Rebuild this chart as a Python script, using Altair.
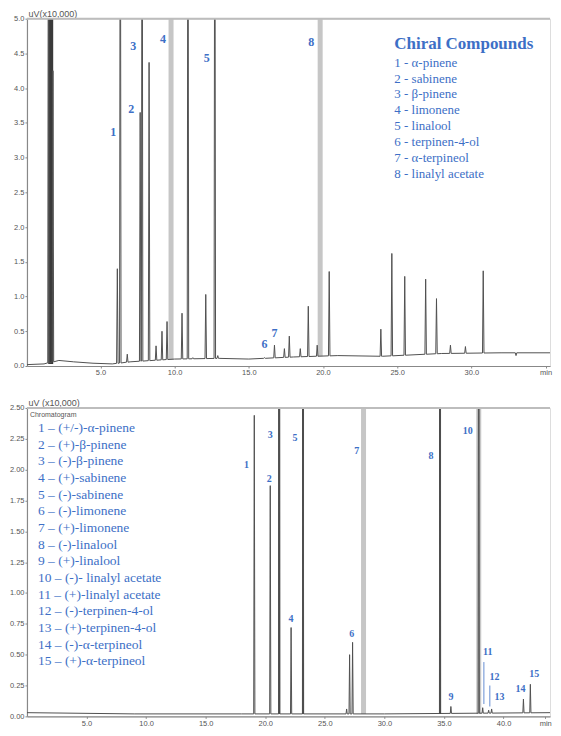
import altair as alt
import numpy as np
import pandas as pd

BLUE = "#3d6fc6"
TRACE = "#505050"
SERIF = "Liberation Serif"
SANS = "Liberation Sans"

# ---------------- Top chromatogram (achiral column) ----------------
top_base_t = [0.05, 1.2, 2.2, 3.2, 4.5, 5.8, 7.0, 10.0, 13.0, 15.0, 18.0, 21.0, 24.0, 28.0, 32.0, 35.3]
top_base_v = [0.02, 0.03, 0.08, 0.06, 0.04, 0.03, 0.06, 0.10, 0.11, 0.10, 0.13, 0.15, 0.14, 0.18, 0.19, 0.19]
top_peak_rt = [1.50, 1.80, 6.14, 6.34, 6.81, 7.68, 7.81, 8.28, 8.75, 9.15, 9.49, 10.50, 10.90,
               11.23, 12.10, 12.71, 12.91, 16.06, 16.73, 17.40, 17.73, 18.47, 19.01, 19.61,
               20.42, 23.90, 24.64, 25.51, 26.92, 27.65, 28.59, 29.60, 30.80, 33.01]
top_peak_h = [9.0, 4.25, 1.40, 9.0, 0.17, 3.65, 9.0, 4.37, 0.29, 0.50, 0.64, 0.76, 9.0,
              0.12, 1.03, 9.0, 0.15, 0.12, 0.30, 0.25, 0.43, 0.25, 0.86, 0.30,
              1.36, 0.53, 1.62, 1.29, 1.25, 0.97, 0.30, 0.28, 1.37, 0.15]
top_band_rt = [9.76, 19.81]
top_band_v = [0.09, 0.14]
top_solvent_rt = [1.65]
top_solvent_v = [0.03]
top_label_num = ["1", "2", "3", "4", "5", "6", "7", "8"]
top_label_t = [5.87, 7.08, 7.21, 9.22, 12.17, 16.06, 16.73, 19.21]
top_label_v = [3.37, 3.70, 4.61, 4.71, 4.44, 0.32, 0.47, 4.66]
top_legend_title = "Chiral Compounds"
top_legend_items = ["1 - α-pinene", "2 - sabinene", "3 - β-pinene", "4 - limonene",
                    "5 - linalool", "6 - terpinen-4-ol", "7 - α-terpineol", "8 - linalyl acetate"]
top_y_ticks = [0.0, 0.5, 1.0, 1.5, 2.0, 2.5, 3.0, 3.5, 4.0, 4.5, 5.0]
top_x_ticks = [5, 10, 15, 20, 25, 30, 35]

# ---------------- Bottom chromatogram (chiral column) ----------------
bot_base_t = [0.0, 9.0, 18.0, 30.0, 43.9]
bot_base_v = [0.03, 0.02, 0.02, 0.02, 0.03]
bot_peak_rt = [19.08, 20.42, 21.17, 22.17, 23.17, 26.83, 27.08, 27.33, 34.67, 35.58, 37.92,
               38.25, 38.75, 39.00, 41.67, 42.25]
bot_peak_h = [2.44, 1.87, 6.0, 0.72, 6.0, 0.06, 0.50, 0.60, 6.0, 0.08, 6.0,
              0.07, 0.05, 0.06, 0.14, 0.26]
bot_band_rt = [28.25, 37.92]
bot_band_v = [0.02, 0.02]
bot_dark_rt = [21.17, 23.17, 34.67]
bot_dark_v = [0.02, 0.02, 0.02]
bot_label_num = ["1", "2", "3", "4", "5", "6", "7", "8", "9", "10", "11", "12", "13", "14", "15"]
bot_label_t = [18.42, 20.33, 20.42, 22.17, 22.50, 27.25, 27.67, 33.92, 35.58, 37.00, 38.67,
               39.25, 39.67, 41.42, 42.58]
bot_label_v = [2.04, 1.92, 2.28, 0.79, 2.26, 0.67, 2.15, 2.11, 0.16, 2.31, 0.52,
               0.32, 0.16, 0.22, 0.34]
bot_leader_t = [38.35, 38.85]
bot_leader_top = [0.44, 0.25]
bot_leader_bot = [0.10, 0.08]
bot_legend_items = ["1 – (+/-)-α-pinene", "2 – (+)-β-pinene", "3 – (-)-β-pinene",
                    "4 – (+)-sabinene", "5 – (-)-sabinene", "6 – (-)-limonene",
                    "7 – (+)-limonene", "8 – (-)-linalool", "9 – (+)-linalool",
                    "10 – (-)- linalyl acetate", "11 – (+)-linalyl acetate",
                    "12 – (-)-terpinen-4-ol", "13 – (+)-terpinen-4-ol",
                    "14 – (-)-α-terpineol", "15 – (+)-α-terpineol"]
bot_y_ticks = [0.0, 0.25, 0.5, 0.75, 1.0, 1.25, 1.5, 1.75, 2.0, 2.25, 2.5]
bot_x_ticks = [5, 10, 15, 20, 25, 30, 35, 40, 43.5]


def build_trace(base_t, base_v, rt, h, hw=0.05):
    pts = []
    for t, v in zip(base_t, base_v):
        if all(abs(t - r) > hw for r in rt):
            pts.append((t, v))
    for r, a in zip(rt, h):
        b = float(np.interp(r, base_t, base_v))
        pts += [(r - hw, b), (r, a), (r + hw, b)]
    pts.sort()
    return pd.DataFrame(pts, columns=["t", "v"])


W = 524


def panel(trace, bands, darks, labels, leaders, x_dom, y_dom, x_ticks, last_tick, y_ticks,
          y_fmt, y_title, height, label_size, legend_layers):
    x = alt.X("t:Q", scale=alt.Scale(domain=x_dom, nice=False, zero=False),
              axis=alt.Axis(values=x_ticks, title=None, grid=False,
                            labelExpr=f"datum.value == {last_tick} ? 'min' : format(datum.value, '.1f')"))
    y = alt.Y("v:Q", scale=alt.Scale(domain=y_dom, nice=False),
              axis=alt.Axis(values=y_ticks, format=y_fmt, grid=False, title=y_title,
                            titleAngle=0, titleX=1, titleY=0, titleAlign="left",
                            titleBaseline="bottom"))
    layers = []
    layers.append(alt.Chart(bands).mark_rule(color="#c6c6c6", strokeWidth=5)
                  .encode(x=x, y=y, y2=alt.value(0)))
    layers.append(alt.Chart(darks).mark_rule(color="#3a3a3a", strokeWidth=darks["w"].iloc[0])
                  .encode(x=x, y=y, y2=alt.value(0)))
    layers.append(alt.Chart(trace).mark_line(color=TRACE, strokeWidth=1, clip=True)
                  .encode(x=x, y=y))
    if leaders is not None:
        layers.append(alt.Chart(leaders).mark_rule(color=BLUE, strokeWidth=0.8)
                      .encode(x=x, y=y, y2="v2:Q"))
    layers.append(alt.Chart(labels).mark_text(color=BLUE, font=SERIF, fontSize=label_size,
                                              fontWeight="bold")
                  .encode(x=x, y=y, text="n:N"))
    layers.append(alt.Chart(pd.DataFrame({"k": [0]})).mark_rule(color="#bdbdbd", strokeWidth=2)
                  .encode(x=alt.value(0), x2=alt.value(W), y=alt.value(0)))
    layers += legend_layers
    return alt.layer(*layers).properties(width=W, height=height)


one = pd.DataFrame({"k": [0]})

top_trace = build_trace(top_base_t, top_base_v, top_peak_rt, top_peak_h)
top_bands = pd.DataFrame({"t": top_band_rt, "v": top_band_v})
top_darks = pd.DataFrame({"t": top_solvent_rt, "v": top_solvent_v, "w": [5] * len(top_solvent_rt)})
top_labels = pd.DataFrame({"t": top_label_t, "v": top_label_v, "n": top_label_num})

top_legend = [
    alt.Chart(one).mark_text(text=top_legend_title, font=SERIF, fontSize=17, fontWeight="bold",
                             color=BLUE, align="left", baseline="middle")
    .encode(x=alt.value(368), y=alt.value(25)),
    alt.Chart(one).mark_text(text=top_legend_items, font=SERIF, fontSize=13, color=BLUE,
                             align="left", baseline="top", lineHeight=16)
    .encode(x=alt.value(368), y=alt.value(38)),
]

top = panel(top_trace, top_bands, top_darks, top_labels, None, [0.05, 35.3], [0, 5.0],
            top_x_ticks, 35, top_y_ticks, ".1f", "uV(x10,000)", 348, 12, top_legend)

bot_trace = build_trace(bot_base_t, bot_base_v, bot_peak_rt, bot_peak_h)
bot_bands = pd.DataFrame({"t": bot_band_rt, "v": bot_band_v})
bot_darks = pd.DataFrame({"t": bot_dark_rt, "v": bot_dark_v, "w": [2] * len(bot_dark_rt)})
bot_labels = pd.DataFrame({"t": bot_label_t, "v": bot_label_v, "n": bot_label_num})
bot_leaders = pd.DataFrame({"t": bot_leader_t, "v": bot_leader_top, "v2": bot_leader_bot})

bot_legend = [
    alt.Chart(one).mark_text(text="Chromatogram", font=SANS, fontSize=7, color="#555",
                             align="left", baseline="top")
    .encode(x=alt.value(3), y=alt.value(3)),
    alt.Chart(one).mark_text(text=bot_legend_items, font=SERIF, fontSize=13.5, color=BLUE,
                             align="left", baseline="top", lineHeight=16.7)
    .encode(x=alt.value(11), y=alt.value(13)),
]

bot = panel(bot_trace, bot_bands, bot_darks, bot_labels, bot_leaders, [0.0, 43.9], [0, 2.5],
            bot_x_ticks, 43.5, bot_y_ticks, ".2f", "uV (x10,000)", 309, 10, bot_legend)

chart = alt.vconcat(top, bot, spacing=21).properties(
    padding={"left": 0, "top": 0, "right": 0, "bottom": 0}
).configure_view(stroke=None).configure(background="white").configure_axis(
    labelFont=SANS, labelFontSize=7.5, labelColor="#555", tickSize=2, tickColor="#888",
    labelPadding=1, domainColor="#888", domainWidth=1.2, titleFont=SANS, titleFontSize=9,
    titleFontWeight="normal", titleColor="#555"
)

chart.save("out.html", embed_options={"renderer": "svg", "actions": False})
